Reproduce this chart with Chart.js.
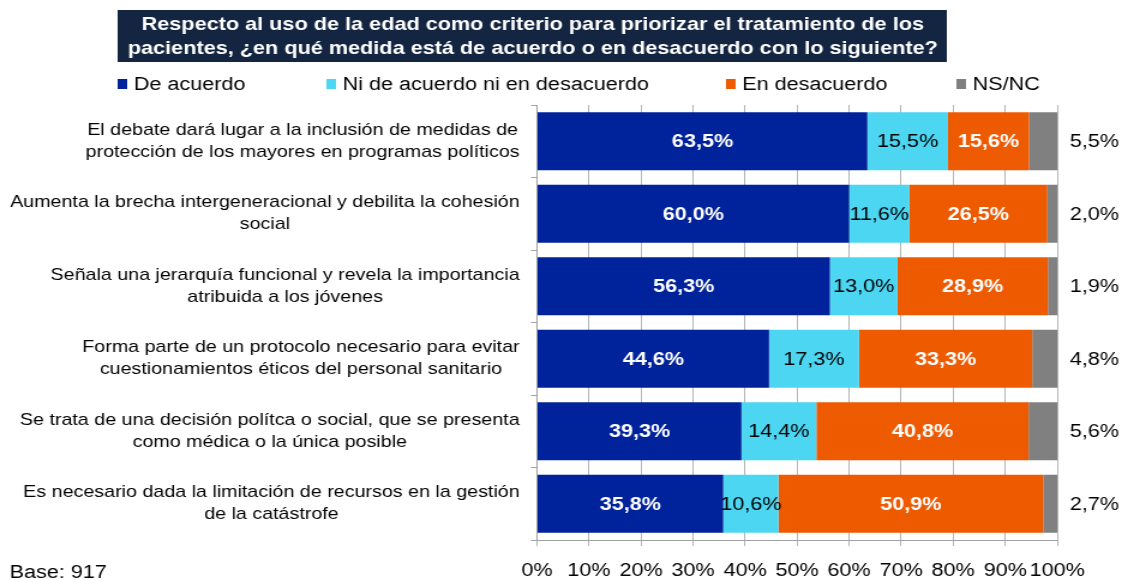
<!DOCTYPE html>
<html>
<head>
<meta charset="utf-8">
<script src="https://cdn.jsdelivr.net/npm/chart.js@4/dist/chart.umd.min.js"></script>
<style>
  html, body { margin: 0; padding: 0; background: #fff; overflow: hidden; }
  #wrap { width: 936px; height: 580px; transform: scaleX(1.2); transform-origin: 0 0; }
  canvas { display: block; }
</style>
</head>
<body>
<div id="wrap"><canvas id="c" width="936" height="580"></canvas></div>
<script>
// ---- data ----
const categories = [
  ["El debate dará lugar a la inclusión de medidas de", "protección de los mayores en programas políticos"],
  ["Aumenta la brecha intergeneracional y debilita la cohesión", "social"],
  ["Señala una jerarquía funcional y revela la importancia", "atribuida a los jóvenes"],
  ["Forma parte de un protocolo necesario para evitar", "cuestionamientos éticos del personal sanitario"],
  ["Se trata de una decisión polítca o social, que se presenta", "como médica o la única posible"],
  ["Es necesario dada la limitación de recursos en la gestión", "de la catástrofe"]
];
const seriesNames = ["De acuerdo", "Ni de acuerdo ni en desacuerdo", "En desacuerdo", "NS/NC"];
const deAcuerdo    = [63.5, 60.0, 56.3, 44.6, 39.3, 35.8];
const niNi         = [15.5, 11.6, 13.0, 17.3, 14.4, 10.6];
const enDesacuerdo = [15.6, 26.5, 28.9, 33.3, 40.8, 50.9];
const nsnc         = [5.5, 2.0, 1.9, 4.8, 5.6, 2.7];
const xTickValues  = [0, 10, 20, 30, 40, 50, 60, 70, 80, 90, 100];
const titleLines = [
  "Respecto al uso de la edad como criterio para priorizar el tratamiento de los",
  "pacientes, ¿en qué medida está de acuerdo o en desacuerdo con lo siguiente?"
];
const baseText = "Base: 917";

// ---- styles ----
const colors = ["#00229a", "#4cd6f2", "#ee5a00", "#808080"];
const FONT = "'Liberation Sans', Arial, sans-serif";
const fmt = v => v.toFixed(1).replace('.', ',') + '%';

const decor = {
  id: 'decor',
  afterDraw(chart) {
    const ctx = chart.ctx;
    const yScale = chart.scales.y;
    ctx.save();
    // title box
    ctx.fillStyle = '#132541';
    ctx.fillRect(98, 10, 691, 52);
    ctx.fillStyle = '#ffffff';
    ctx.font = 'bold 19px ' + FONT;
    ctx.textAlign = 'center';
    ctx.textBaseline = 'middle';
    ctx.save();
    ctx.translate(444, 0);
    ctx.scale(0.95, 1);
    ctx.fillText(titleLines[0], 0, 25);
    ctx.fillText(titleLines[1], 0, 49);
    ctx.restore();

    // legend
    const legendX = [98, 272, 605, 797];
    ctx.font = '18px ' + FONT;
    ctx.textAlign = 'left';
    chart.data.datasets.forEach((ds, i) => {
      ctx.fillStyle = ds.backgroundColor;
      ctx.fillRect(legendX[i], 79, 8, 10);
      ctx.fillStyle = '#000';
      ctx.fillText(ds.label, legendX[i] + 13.5, 85);
    });

    // category labels
    ctx.font = '16.4px ' + FONT;
    ctx.textAlign = 'center';
    ctx.fillStyle = '#000';
    const rightEdge = 433;
    chart.data.labels.forEach((lines, i) => {
      const yc = yScale.getPixelForValue(i);
      const maxW = Math.max(...lines.map(l => ctx.measureText(l).width));
      const cx = rightEdge - maxW / 2;
      const lh = 22;
      const y0 = yc - (lines.length - 1) * lh / 2;
      lines.forEach((l, k) => ctx.fillText(l, cx, y0 + k * lh));
    });

    // base text
    ctx.font = '18px ' + FONT;
    ctx.textAlign = 'left';
    ctx.fillText(baseText, 8, 573);
    ctx.restore();
  },
  afterDatasetsDraw(chart) {
    const ctx = chart.ctx;
    ctx.save();
    ctx.textBaseline = 'middle';
    ctx.textAlign = 'center';
    chart.data.datasets.forEach((ds, di) => {
      const meta = chart.getDatasetMeta(di);
      meta.data.forEach((el, i) => {
        const p = el.getProps(['x', 'y', 'base'], true);
        const v = ds.data[i];
        if (di === 3) {
          ctx.font = '18px ' + FONT;
          ctx.fillStyle = '#000';
          ctx.fillText(fmt(v), 912, p.y + 1);
        } else if (di === 1) {
          ctx.font = '18px ' + FONT;
          ctx.fillStyle = '#000';
          ctx.fillText(fmt(v), (p.x + p.base) / 2, p.y + 1);
        } else {
          ctx.font = 'bold 18px ' + FONT;
          ctx.fillStyle = '#fff';
          ctx.fillText(fmt(v), (p.x + p.base) / 2, p.y + 1);
        }
      });
    });
    ctx.restore();
  }
};

const seriesData = [deAcuerdo, niNi, enDesacuerdo, nsnc];

new Chart(document.getElementById('c'), {
  type: 'bar',
  data: {
    labels: categories,
    datasets: seriesData.map((d, i) => ({
      label: seriesNames[i],
      data: d,
      backgroundColor: colors[i],
      borderWidth: 0,
      categoryPercentage: 1.0,
      barPercentage: 0.8
    }))
  },
  options: {
    indexAxis: 'y',
    responsive: false,
    animation: false,
    devicePixelRatio: 1,
    layout: { padding: { top: 105, right: 55, left: 0, bottom: 0 } },
    plugins: { legend: { display: false }, tooltip: { enabled: false }, title: { display: false } },
    scales: {
      x: {
        stacked: true,
        min: 0,
        max: 100,
        afterBuildTicks: s => { s.ticks = xTickValues.map(v => ({ value: v })); },
        ticks: {
          callback: v => v + '%',
          font: { size: 18, family: FONT },
          color: '#000',
          padding: 14,
          maxRotation: 0,
          autoSkip: false
        },
        grid: { color: '#b4b4b4', tickLength: 6, lineWidth: 1 },
        border: { color: '#a0a0a0' },
        afterFit: s => { s.height = 40; }
      },
      y: {
        stacked: true,
        ticks: { display: false },
        grid: { offset: true, drawOnChartArea: false, tickLength: 5, color: '#a0a0a0' },
        border: { color: '#a0a0a0' },
        afterFit: s => { s.width = 447.5; }
      }
    }
  },
  plugins: [decor]
});
</script>
</body>
</html>
